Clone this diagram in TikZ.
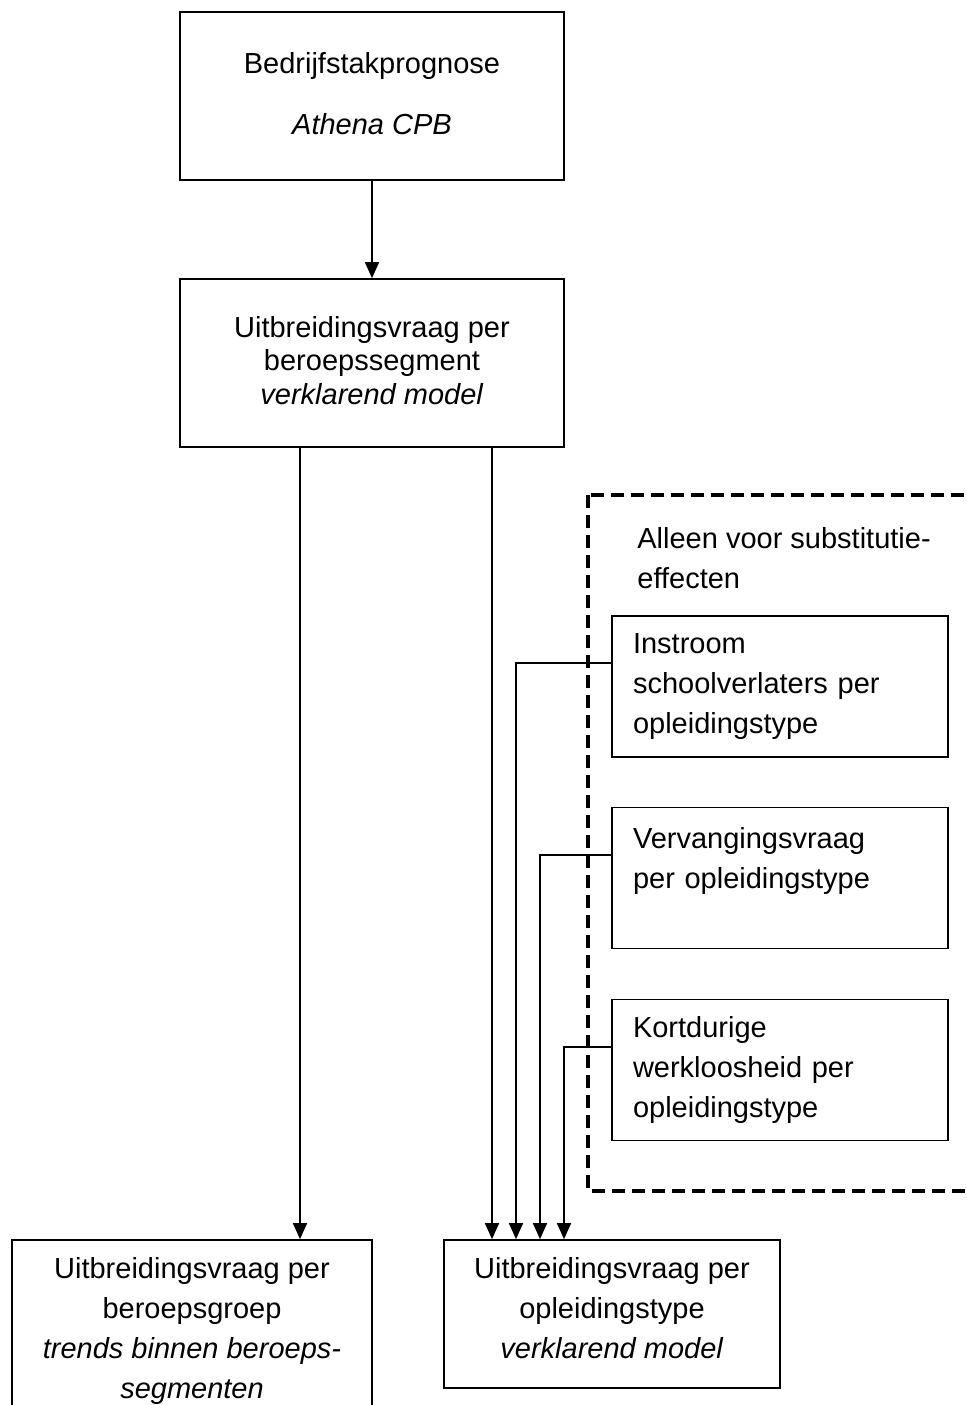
\documentclass[tikz,border=0pt]{standalone}
\usepackage{fontspec}
\setmainfont{Liberation Sans}
\usepackage{tikz}
\usetikzlibrary{calc,arrows.meta,positioning}

\begin{document}
\begin{tikzpicture}
    [%%%%%%%%%%%%%%%%%%%%%%%%%%%%%%
        x=0.5pt,y=-0.5pt,
        box/.style={rectangle,draw=black,line width=0.85pt,inner sep=0pt,
            align=center,font=\fontsize{14.5pt}{20pt}\selectfont},
        lbox/.style={rectangle,draw=black,line width=0.85pt,inner xsep=10.5pt,inner ysep=0pt,
            text width=147pt,align=left,minimum width=168pt,minimum height=70.5pt,
            font=\fontsize{14.5pt}{20pt}\selectfont},
        arr/.style={line width=0.85pt,-{Triangle[width=7pt,length=8pt]}},
        dashframe/.style={line width=1.8pt,dash pattern=on 6.5pt off 3.5pt},
    ]%%%%%%%%%%%%%%%%%%%%%%%%%%%%%%

\useasboundingbox (0,0) rectangle (967,1405);

\node[box,minimum width=192pt,minimum height=84pt] (progn) at (372,96)
    {Bedrijfstakprognose\\[10.5pt]\textit{Athena CPB}\rule[-3pt]{0pt}{3pt}};
\node[box,minimum width=192pt,minimum height=84pt,font=\fontsize{14.5pt}{16.75pt}\selectfont] (segm) at (372,363)
    {Uitbreidingsvraag per\\beroepssegment\\\textit{verklarend model}\rule[-3pt]{0pt}{3pt}};
\node[box,minimum width=180pt,minimum height=88pt] (groep) at (192,1328)
    {\rule{0pt}{13.6pt}Uitbreidingsvraag per\\beroepsgroep\\\textit{trends binnen beroeps-}\\\textit{segmenten}};
\node[box,minimum width=168pt,minimum height=74pt] (opl) at (612,1314)
    {Uitbreidingsvraag per\\opleidingstype\\\textit{verklarend model}\rule[-6pt]{0pt}{6pt}};

% alleen voor substitutie
\draw[dashframe] (588,495) rectangle (1000,1191);
\node[anchor=west,inner sep=0pt,align=left,font=\fontsize{14.5pt}{20pt}\selectfont] (subst) at (637,558)
    {Alleen voor substitutie-\\effecten};

\node[lbox] (instr) at (780,686.5) {Instroom\\schoolverlaters per\\opleidingstype};
\node[lbox] (verv) at (780,878) {Vervangingsvraag\\per opleidingstype\\\mbox{}};
\node[lbox] (kort) at (780,1070) {Kortdurige\\werkloosheid per\\opleidingstype};

\draw[arr] (progn) -- (segm);
\draw[arr] ([xshift=-36pt]segm.south) -- ([xshift=-36pt]segm.south |- groep.north);
\draw[arr] ([xshift=60pt]segm.south) -- ([xshift=60pt]segm.south |- opl.north);
\draw[arr] ([yshift=11.75pt]instr.west) -| ([xshift=-48pt]opl.north);
\draw[arr] ([yshift=11.5pt]verv.west) -| ([xshift=-36pt]opl.north);
\draw[arr] ([yshift=11.5pt]kort.west) -| ([xshift=-24pt]opl.north);

\end{tikzpicture}
\end{document}
